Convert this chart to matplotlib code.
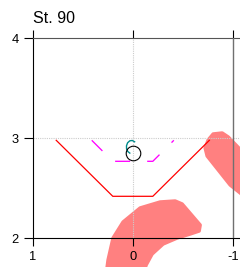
import matplotlib

matplotlib.use("Agg")
import matplotlib.pyplot as plt
from matplotlib.patches import Polygon

plt.rcParams["font.family"] = ["Liberation Sans", "DejaVu Sans"]
plt.rcParams["axes.unicode_minus"] = False

# station title
TITLE = "St. 90"

# axis setup (x runs reversed, 1 -> -1)
X_TICKS = [1, 0, -1]
X_LABELS = ["1", "0", "-1"]
Y_TICKS = [2, 3, 4]
Y_LABELS = ["2", "3", "4"]

# red profile
red_x = [0.765, 0.20, -0.20, -0.765]
red_y = [2.98, 2.42, 2.42, 2.98]

# magenta dashed profile
mag_x = [0.41, 0.20, -0.20, -0.41]
mag_y = [2.98, 2.77, 2.77, 2.98]

# teal hook
teal_x = [-0.018, 0.005, 0.030, 0.052, 0.063, 0.062, 0.050, 0.030]
teal_y = [2.965, 2.978, 2.975, 2.955, 2.925, 2.893, 2.868, 2.852]

# black open marker
pt_x = [0.0]
pt_y = [2.85]

# salmon bands (outlines)
band1_x = [0.267, 0.247, 0.197, 0.097, -0.073, -0.273, -0.423, -0.493,
           -0.673, -0.663, -0.573, -0.443, -0.303, -0.193, -0.133, -0.103]
band1_y = [1.633, 1.783, 2.003, 2.163, 2.303, 2.363, 2.373, 2.343,
           2.133, 2.073, 2.043, 2.003, 1.943, 1.843, 1.733, 1.633]
band2_x = [-0.803, -0.893, -0.953, -1.223, -1.223, -0.973, -0.743, -0.723, -0.753]
band2_y = [3.043, 3.053, 3.013, 2.733, 2.333, 2.533, 2.823, 2.903, 2.983]

fig = plt.figure(figsize=(2.4, 2.67), dpi=100)
ax = fig.add_axes([32.7 / 240, 28.7 / 267, 207.3 / 240, 200 / 267])
ax.set_xlim(1, -1.071)
ax.set_ylim(2, 4)

# guide lines
ax.axvline(0, color="#cccccc", lw=0.8, ls=(0, (1, 1)), zorder=1)
ax.axhline(3, color="#cccccc", lw=0.8, ls=(0, (1, 1)), zorder=1)
ax.axvline(-1, color="#707070", lw=1.0, zorder=3)

for bx, by in [(band1_x, band1_y), (band2_x, band2_y)]:
    ax.add_patch(Polygon(list(zip(bx, by)), closed=True, fc="#ff8080", ec="#ff8080",
                         lw=2.5, joinstyle="round", zorder=0.5, clip_on=False))

ax.plot(red_x, red_y, color="red", lw=0.9, zorder=2)
ax.plot(mag_x, mag_y, color="#ff00ff", lw=0.95, ls=(0, (11.4, 12.9)), zorder=2)
ax.plot(teal_x, teal_y, color="#008b8b", lw=1.0, zorder=2)
ax.plot(pt_x, pt_y, "o", ms=10.5, mfc="none", mec="black", mew=0.8, zorder=3)

ax.spines["right"].set_visible(False)
ax.spines["top"].set_color("#555555")
for s in ["left", "bottom"]:
    ax.spines[s].set_color("black")
for s in ax.spines.values():
    s.set_linewidth(0.8)

ax.set_xticks(X_TICKS)
ax.set_xticklabels(X_LABELS)
ax.set_yticks(Y_TICKS)
ax.set_yticklabels(Y_LABELS)
ax.tick_params(axis="x", which="both", top=True, bottom=True, length=5.8, width=0.8,
               pad=3.3, labelsize=9.3, colors="black")
ax.tick_params(axis="y", length=6.5, width=0.8, pad=3.6, labelsize=9.3)
for t in ax.xaxis.get_majorticklines():
    if t.get_marker() == 2:  # top tick
        t.set_color("#555555")

fig.text(32.7 / 240, 1 - 23.3 / 267, TITLE, fontsize=11.5, va="baseline", ha="left")

fig.savefig("out.png", dpi=100)
